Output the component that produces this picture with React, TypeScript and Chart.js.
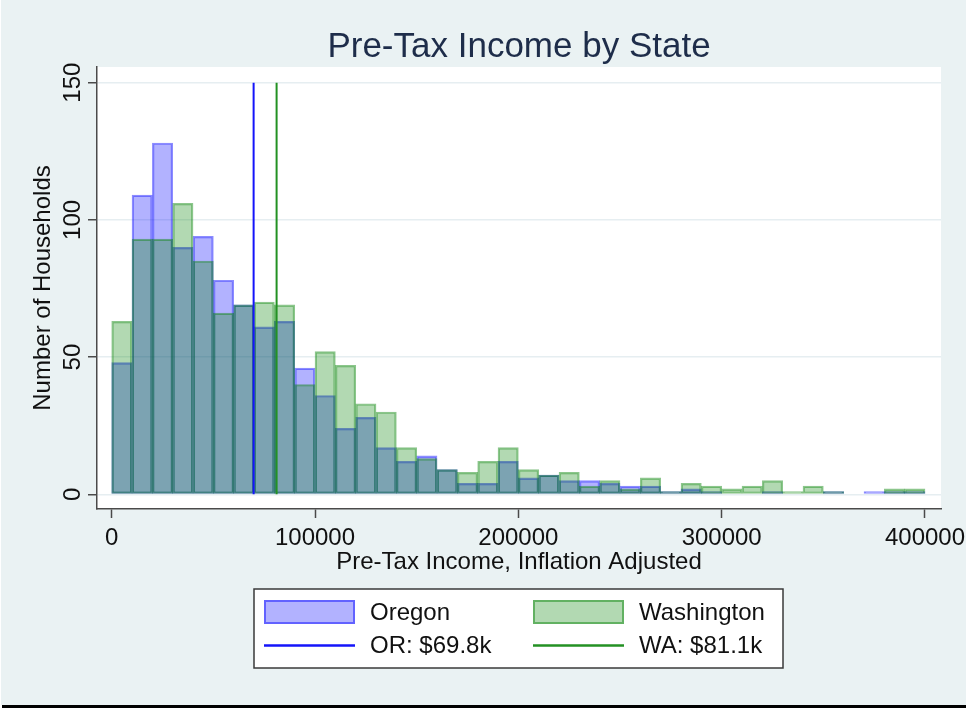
import React, { useEffect, useRef } from 'react';
import { Chart, registerables } from 'chart.js';

Chart.register(...registerables);

// Histogram bins: lower edge of each 10k income bin
const binStarts = [
  0, 10000, 20000, 30000, 40000, 50000, 60000, 70000, 80000, 90000,
  100000, 110000, 120000, 130000, 140000, 150000, 160000, 170000, 180000, 190000,
  200000, 210000, 220000, 230000, 240000, 250000, 260000, 270000, 280000, 290000,
  300000, 310000, 320000, 330000, 340000, 350000, 360000, 370000, 380000, 390000,
];
const binWidth = 10000;

// Household counts per bin
const oregonCounts = [
  48, 109, 128, 90, 94, 78, 69, 61, 63, 46,
  36, 24, 28, 17, 12, 14, 9, 4, 4, 12,
  6, 7, 5, 5, 4, 3, 3, 1, 2, 1,
  0, 0, 1, 0, 0, 1, 0, 1, 1, 1,
];
const washingtonCounts = [
  63, 93, 93, 106, 85, 66, 69, 70, 69, 40,
  52, 47, 33, 30, 17, 13, 9, 8, 12, 17,
  9, 7, 8, 3, 5, 2, 6, 1, 4, 3,
  2, 3, 5, 1, 3, 1, 0, 0, 2, 2,
];

// Mean income markers
const oregonMean = 69800;
const washingtonMean = 81100;

const chartTitle = 'Pre-Tax Income by State';
const seriesLabels = ['Oregon', 'Washington'];
const meanLabels = ['OR: $69.8k', 'WA: $81.1k'];

const xTickValues = [0, 100000, 200000, 300000, 400000];
const yTickValues = [0, 50, 100, 150];

const FONT = '"Liberation Sans", Arial, Helvetica, sans-serif';
const PAGE_BG = 'rgb(234,242,243)';
const AXIS_COLOR = '#4a4a4a';

// Page background, white plot region, centred title and bottom rule
const framePlugin = {
  id: 'frame',
  beforeDraw(chart: any) {
    const { ctx, width, height, chartArea: a } = chart;
    ctx.save();
    ctx.fillStyle = '#ffffff';
    ctx.fillRect(0, 0, width, height);
    ctx.fillStyle = PAGE_BG;
    ctx.fillRect(1, 0, width - 1, height - 3);
    ctx.fillStyle = '#ffffff';
    ctx.fillRect(a.left, a.top, a.right - a.left, a.bottom - a.top);
    ctx.restore();
  },
  afterDraw(chart: any) {
    const { ctx, width, height, chartArea: a } = chart;
    ctx.save();
    ctx.fillStyle = '#1e2d4a';
    ctx.font = `35px ${FONT}`;
    ctx.textAlign = 'center';
    ctx.textBaseline = 'alphabetic';
    ctx.fillText(chartTitle, (a.left + a.right) / 2, 57);
    ctx.fillStyle = '#000000';
    ctx.fillRect(2, height - 3, width - 2, 3);
    ctx.restore();
  },
};

// Vertical (rotated) y tick labels
const yLabelPlugin = {
  id: 'yRotatedLabels',
  afterDraw(chart: any) {
    const { ctx } = chart;
    const scale = chart.scales.y;
    ctx.save();
    ctx.fillStyle = '#111111';
    ctx.font = `24px ${FONT}`;
    ctx.textAlign = 'center';
    ctx.textBaseline = 'alphabetic';
    scale.ticks.forEach((t: any) => {
      const y = scale.getPixelForValue(t.value);
      ctx.save();
      ctx.translate(80, y);
      ctx.rotate(-Math.PI / 2);
      ctx.fillText(String(t.value), 0, 0);
      ctx.restore();
    });
    ctx.restore();
  },
};

// Two-column boxed legend below the plot
const boxLegendPlugin = {
  id: 'boxLegend',
  afterDraw(chart: any) {
    const { ctx } = chart;
    const datasets = chart.data.datasets;
    const box = { x: 254, y: 589, w: 529, h: 79 };
    ctx.save();
    ctx.fillStyle = '#ffffff';
    ctx.fillRect(box.x, box.y, box.w, box.h);
    ctx.strokeStyle = '#3a3a3a';
    ctx.lineWidth = 1.5;
    ctx.strokeRect(box.x, box.y, box.w, box.h);

    const colX = [264, 533];
    const rowY = [612, 645.5];
    const keyW = 91;
    const keyH = 24;
    ctx.font = `24px ${FONT}`;
    ctx.textBaseline = 'middle';
    ctx.textAlign = 'left';
    datasets.forEach((ds: any, i: number) => {
      const cx = colX[i % 2];
      const cy = rowY[Math.floor(i / 2)];
      if (ds.type === 'line') {
        ctx.strokeStyle = ds.borderColor;
        ctx.lineWidth = 2.5;
        ctx.beginPath();
        ctx.moveTo(cx, cy);
        ctx.lineTo(cx + keyW, cy);
        ctx.stroke();
      } else {
        ctx.fillStyle = ds.backgroundColor;
        ctx.fillRect(cx, cy - keyH / 2, keyW, keyH);
        ctx.strokeStyle = ds.borderColor;
        ctx.lineWidth = 2;
        ctx.strokeRect(cx + 1, cy - keyH / 2 + 1, keyW - 2, keyH - 2);
      }
      ctx.fillStyle = '#111111';
      ctx.fillText(ds.label, cx + keyW + 15, cy + 1);
    });
    ctx.restore();
  },
};

export default function App() {
  const canvasRef = useRef<HTMLCanvasElement | null>(null);

  useEffect(() => {
    const canvas = canvasRef.current;
    if (!canvas) return;

    const barCommon = {
      type: 'bar' as const,
      borderWidth: 1.5,
      borderSkipped: false,
      grouped: false,
      barPercentage: 1,
      categoryPercentage: 1,
    };

    const chart = new Chart(canvas, {
      type: 'bar',
      data: {
        datasets: [
          {
            ...barCommon,
            label: seriesLabels[0],
            data: binStarts.map((s, i) => ({ x: s + binWidth / 2, y: oregonCounts[i] })),
            backgroundColor: 'rgba(0,0,255,0.3)',
            borderColor: 'rgba(0,0,255,0.45)',
            order: 4,
          },
          {
            ...barCommon,
            label: seriesLabels[1],
            data: binStarts.map((s, i) => ({ x: s + binWidth / 2, y: washingtonCounts[i] })),
            backgroundColor: 'rgba(0,128,0,0.3)',
            borderColor: 'rgba(0,128,0,0.45)',
            order: 3,
          },
          {
            type: 'line',
            label: meanLabels[0],
            data: [{ x: oregonMean, y: 0 }, { x: oregonMean, y: 150 }],
            borderColor: 'rgb(20,20,250)',
            borderWidth: 2,
            pointRadius: 0,
            order: 2,
          },
          {
            type: 'line',
            label: meanLabels[1],
            data: [{ x: washingtonMean, y: 0 }, { x: washingtonMean, y: 150 }],
            borderColor: 'rgb(35,145,35)',
            borderWidth: 2,
            pointRadius: 0,
            order: 1,
          },
        ] as any,
      },
      options: {
        animation: false,
        responsive: false,
        events: [],
        layout: { padding: { top: 67, left: 0, right: 25, bottom: 130 } },
        plugins: {
          legend: { display: false },
          tooltip: { enabled: false },
          title: { display: false },
        },
        scales: {
          x: {
            type: 'linear',
            min: -7230,
            max: 407870,
            offset: false,
            afterBuildTicks: (s: any) => {
              s.ticks = xTickValues.map((v) => ({ value: v }));
            },
            afterFit: (s: any) => {
              s.height = 69;
              s.paddingLeft = 0;
              s.paddingRight = 0;
            },
            ticks: {
              callback: (v: any) => String(v),
              color: '#111111',
              font: { family: FONT, size: 24 },
              padding: 6,
              maxRotation: 0,
              minRotation: 0,
              autoSkip: false,
            },
            grid: {
              offset: false,
              drawOnChartArea: false,
              drawTicks: true,
              tickLength: 9,
              tickColor: AXIS_COLOR,
              tickWidth: 1.5,
            },
            border: { display: true, color: AXIS_COLOR, width: 1.5 },
            title: {
              display: true,
              text: 'Pre-Tax Income, Inflation Adjusted',
              color: '#111111',
              font: { family: FONT, size: 24 },
              padding: { top: 0, bottom: 1.6 },
            },
          },
          y: {
            type: 'linear',
            min: -5.36,
            max: 155.7,
            afterBuildTicks: (s: any) => {
              s.ticks = yTickValues.map((v) => ({ value: v }));
            },
            afterFit: (s: any) => {
              s.width = 97;
              s.paddingTop = 0;
              s.paddingBottom = 0;
            },
            ticks: { display: false },
            grid: {
              color: 'rgb(230,238,241)',
              lineWidth: 1.5,
              drawTicks: true,
              tickLength: 9,
              tickColor: AXIS_COLOR,
              tickWidth: 1.5,
            },
            border: { display: true, color: AXIS_COLOR, width: 1.5 },
            title: {
              display: true,
              text: 'Number of Households',
              color: '#111111',
              font: { family: FONT, size: 24 },
              padding: { top: 29.3, bottom: 0 },
            },
          },
        },
      } as any,
      plugins: [framePlugin, yLabelPlugin, boxLegendPlugin],
    });

    return () => chart.destroy();
  }, []);

  return (
    <div style={{ position: 'fixed', left: 0, top: 0, width: 966, height: 708 }}>
      <canvas ref={canvasRef} width={966} height={708} style={{ display: 'block' }} />
    </div>
  );
}
